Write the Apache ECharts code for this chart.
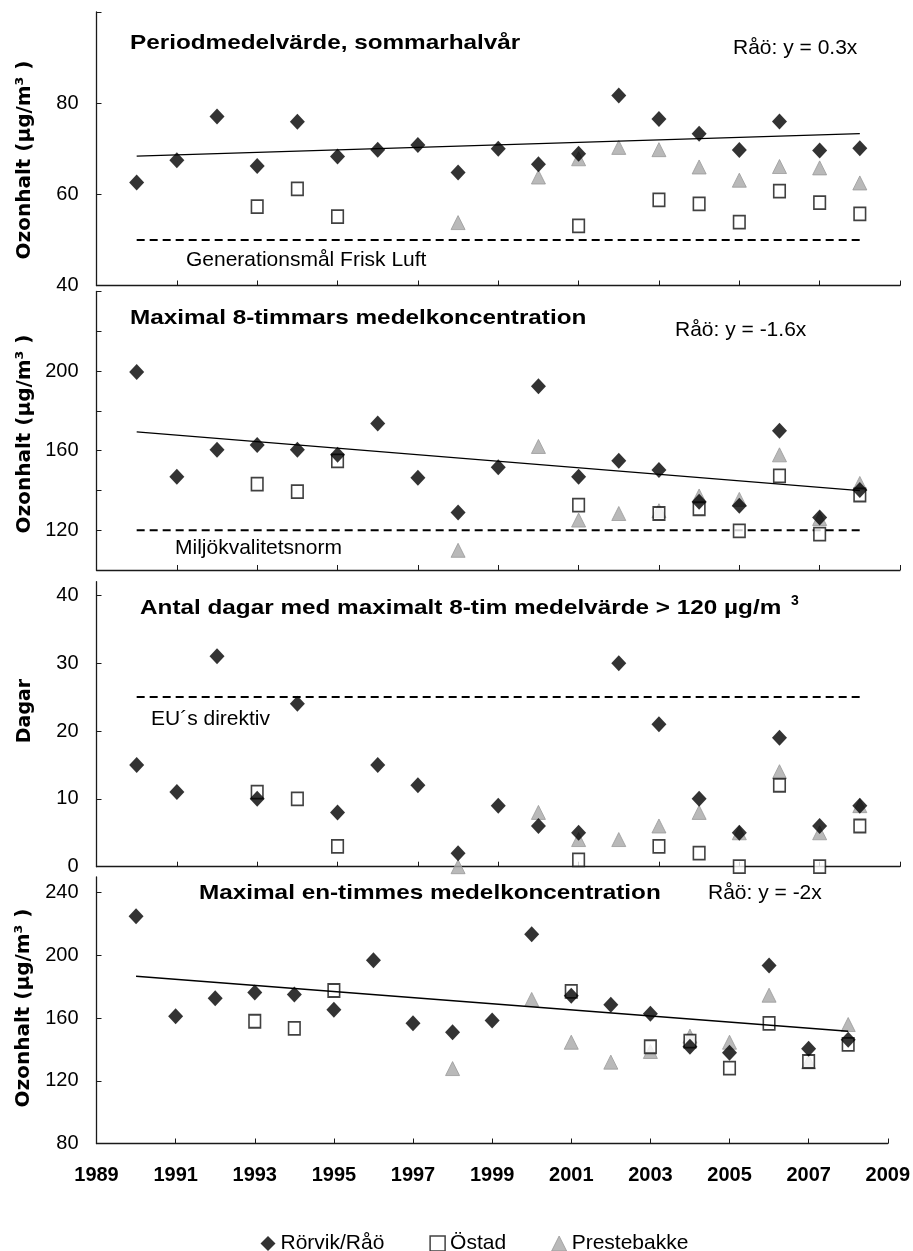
<!DOCTYPE html>
<html>
<head>
<meta charset="utf-8">
<script src="https://cdn.jsdelivr.net/npm/echarts@6/dist/echarts.min.js"></script>
<style>
html,body{margin:0;padding:0;background:#fff;}
#chart{width:913px;height:1251px;}
</style>
</head>
<body>
<div id="chart"></div>
<script>
// ---------- data ----------
var years = [1990,1991,1992,1993,1994,1995,1996,1997,1998,1999,2000,2001,2002,2003,2004,2005,2006,2007,2008];
var seriesNames = ['Rörvik/Råö','Östad','Prestebakke'];
var xTickLabels = [1989,1991,1993,1995,1997,1999,2001,2003,2005,2007,2009];

// Panel 1: Periodmedelvärde, sommarhalvår
var rorvik1 = [62.6,67.5,77.1,66.2,75.9,68.3,69.8,70.8,64.8,70.0,66.6,68.9,81.7,76.5,73.3,69.7,76.0,69.6,70.1];
var ostad1  = [null,null,null,57.3,61.2,55.1,null,null,null,null,null,53.1,null,58.8,57.9,53.9,60.7,58.2,55.7];
var preste1 = [null,null,null,null,null,null,null,null,53.8,null,63.8,67.8,70.3,69.8,66.0,63.1,66.1,65.8,62.5];
var trend1  = [[1990,68.4],[2008,73.3]];
var limit1  = [[1990,50],[2008,50]];
var yTicks1 = [40,60,80,100];
var yLabels1 = [40,60,80];

// Panel 2: Maximal 8-timmars medelkoncentration
var rorvik2 = [199.5,146.9,160.4,162.8,160.4,157.9,173.6,146.4,128.9,151.7,192.4,146.9,154.9,150.3,134.3,132.3,170.0,126.4,140.2];
var ostad2  = [null,null,null,143.2,139.4,154.9,null,null,null,null,null,132.6,null,128.4,130.8,119.7,147.3,118.0,137.7];
var preste2 = [null,null,null,null,null,null,null,null,109.9,null,162.1,125.1,128.4,129.8,137.2,135.5,157.9,125.9,143.5];
var trend2  = [[1990,169.4],[2008,139.9]];
var limit2  = [[1990,120],[2008,120]];
var yTicks2 = [100,120,140,160,180,200,220,240];
var yLabels2 = [120,160,200];

// Panel 3: Antal dagar > 120 µg/m3
var rorvik3 = [15,11,31,10,24,8,15,12,2,9,6,5,30,21,10,5,19,6,9];
var ostad3  = [null,null,null,11,10,3,null,null,null,null,null,1,null,3,2,0,12,0,6];
var preste3 = [null,null,null,null,null,null,null,null,0,null,8,4,4,6,8,5,14,5,9];
var limit3  = [[1990,25],[2008,25]];
var yTicks3 = [0,10,20,30,40];
var yLabels3 = [0,10,20,30,40];

// Panel 4: Maximal en-timmes medelkoncentration
var rorvik4 = [225.0,161.2,172.7,176.3,175.1,165.3,196.9,156.7,151.0,158.5,213.5,174.2,168.5,162.7,141.7,137.9,193.6,140.4,146.2];
var ostad4  = [null,null,null,158.0,153.4,177.6,null,null,null,null,null,177.0,null,141.7,145.3,128.1,156.6,132.3,143.2];
var preste4 = [null,null,null,null,null,null,null,null,127.8,null,171.9,144.6,131.9,138.7,148.5,144.6,174.6,132.1,155.9];
var trend4  = [[1990,186.7],[2008,151.6]];
var yTicks4 = [80,120,160,200,240];
var yLabels4 = [80,120,160,200,240];

// ---------- helpers ----------
function pairs(vals){
  var out = [];
  for (var i=0;i<years.length;i++){ if (vals[i]!==null) out.push([years[i], vals[i]]); }
  return out;
}
var FONT = '"Liberation Sans", Arial, sans-serif';
var AXC = '#1a1a1a';

var grids = [
  {left:96.5, top:12,    width:803.5, height:273.5},
  {left:96.5, top:291.5, width:803.5, height:278.5},
  {left:96.5, top:581.7, width:803.5, height:285},
  {left:96.5, top:877,   width:793.5, height:266.5}
];
var yRanges = [[40,100,20],[100,240,20],[0,42,10],[80,250,40]];
var yTicksAll = [yTicks1,yTicks2,yTicks3,yTicks4];
var yLabelsAll = [yLabels1,yLabels2,yLabels3,yLabels4];

var xAxes = [], yAxes = [];
for (var g=0; g<4; g++){
  var last = (g===3);
  xAxes.push({
    type:'value', gridIndex:g, min:1989, max:2009, interval:2,
    axisLine:{show:true, onZero:false, lineStyle:{color:AXC, width:1.3}},
    axisTick:{show:true, inside:true, length:5, lineStyle:{color:AXC, width:1}},
    axisLabel:{show:last, margin:22, fontFamily:FONT, fontSize:20, fontWeight:'bold', color:'#000',
      customValues: xTickLabels, formatter:function(v){ return String(v); }},
    splitLine:{show:false}
  });
  (function(gi){
    var labs = yLabelsAll[gi];
    yAxes.push({
      type:'value', gridIndex:gi, min:yRanges[gi][0], max:yRanges[gi][1], interval:yRanges[gi][2],
      axisLine:{show:true, onZero:false, lineStyle:{color:AXC, width:1.3}},
      axisTick:{show:true, inside:true, length:5, lineStyle:{color:AXC, width:1}, customValues: yTicksAll[gi]},
      axisLabel:{show:true, margin:18, fontFamily:FONT, fontSize:20, color:'#000',
        customValues: labs,
        formatter:function(v){ return labs.indexOf(v)>=0 ? String(v) : ''; }},
      splitLine:{show:false}
    });
  })(g);
}

var diamondStyle = {color:'#000'};
var squareStyle = {color:'#fff', borderColor:'#111', borderWidth:1.7};
var triStyle = {color:'#a8a8a8', borderColor:'#9a9a9a', borderWidth:1};

var panelData = [
  [rorvik1, ostad1, preste1],
  [rorvik2, ostad2, preste2],
  [rorvik3, ostad3, preste3],
  [rorvik4, ostad4, preste4]
];
var trends = [trend1, trend2, null, trend4];
var limits = [limit1, limit2, limit3, null];

var series = [];
for (var p=0; p<4; p++){
  var d = panelData[p];
  series.push({name:seriesNames[2], type:'scatter', xAxisIndex:p, yAxisIndex:p, symbol:'triangle', symbolSize:[14,14],
    itemStyle:triStyle, data:pairs(d[2]), z:3, silent:true});
  series.push({name:seriesNames[1], type:'scatter', xAxisIndex:p, yAxisIndex:p, symbol:'rect', symbolSize:[11.5,13],
    itemStyle:squareStyle, data:pairs(d[1]), z:4, silent:true});
  series.push({name:seriesNames[0], type:'scatter', xAxisIndex:p, yAxisIndex:p, symbol:'diamond', symbolSize:[15,16],
    itemStyle:diamondStyle, data:pairs(d[0]), z:5, silent:true});
  if (trends[p]) series.push({name:'trend'+p, type:'line', xAxisIndex:p, yAxisIndex:p, data:trends[p],
    symbol:'none', lineStyle:{color:'#000', width:1.3}, z:6, silent:true});
  if (limits[p]) series.push({name:'limit'+p, type:'line', xAxisIndex:p, yAxisIndex:p, data:limits[p],
    symbol:'none', lineStyle:{color:'#000', width:2, type:[8,5]}, z:2, silent:true});
}

function txt(x,y,text,size,bold,sx){
  return {type:'text', x:x, y:y, scaleX:(sx||1), silent:true, z:20,
    style:{text:text, fill:'#000', font:(bold?'bold ':'')+size+'px '+FONT, textAlign:'left', textVerticalAlign:'middle'}};
}
function ytitle(x,y,text,size){
  return {type:'text', x:x, y:y, rotation:Math.PI/2, silent:true, z:20,
    style:{text:text, fill:'#000', font:'bold '+size+'px "DejaVu Sans", sans-serif', textAlign:'center', textVerticalAlign:'middle'}};
}
var TS = 1.157; // horizontal stretch of the bold panel titles

var graphics = [
  txt(130,43,'Periodmedelvärde, sommarhalvår',21,true,TS),
  txt(733,48,'Råö: y = 0.3x',21,false),
  txt(186,260,'Generationsmål Frisk Luft',21,false),
  txt(130,318,'Maximal 8-timmars medelkoncentration',21,true,TS),
  txt(675,330,'Råö: y = -1.6x',21,false),
  txt(175,548,'Miljökvalitetsnorm',21,false),
  txt(140,608,'Antal dagar med maximalt 8-tim medelvärde > 120 µg/m',21,true,TS),
  txt(791,601,'3',14,true),
  txt(151,719,'EU´s direktiv',21,false),
  txt(199,893,'Maximal en-timmes medelkoncentration',21,true,TS),
  txt(708,893,'Råö: y = -2x',21,false),
  ytitle(25,160,'Ozonhalt (µg/m³ )',20),
  ytitle(25,434,'Ozonhalt (µg/m³ )',20),
  ytitle(25,711,'Dagar',19),
  ytitle(24,1008,'Ozonhalt (µg/m³ )',20)
];

var chart = echarts.init(document.getElementById('chart'), null, {renderer:'canvas'});
chart.setOption({
  animation:false,
  backgroundColor:'#fff',
  grid:grids,
  xAxis:xAxes,
  yAxis:yAxes,
  legend:{
    data:[
      {name:seriesNames[0], icon:'diamond', itemStyle:{color:'#000'}},
      {name:seriesNames[1], icon:'rect', itemStyle:{color:'#fff', borderColor:'#111', borderWidth:1.5}},
      {name:seriesNames[2], icon:'triangle', itemStyle:{color:'#a8a8a8', borderColor:'#9a9a9a', borderWidth:1}}
    ],
    left:255.5, top:1228, itemWidth:15, itemHeight:15, itemGap:45,
    textStyle:{fontFamily:FONT, fontSize:21, color:'#000'},
    selectedMode:false
  },
  series:series,
  graphic:graphics
});
</script>
</body>
</html>
